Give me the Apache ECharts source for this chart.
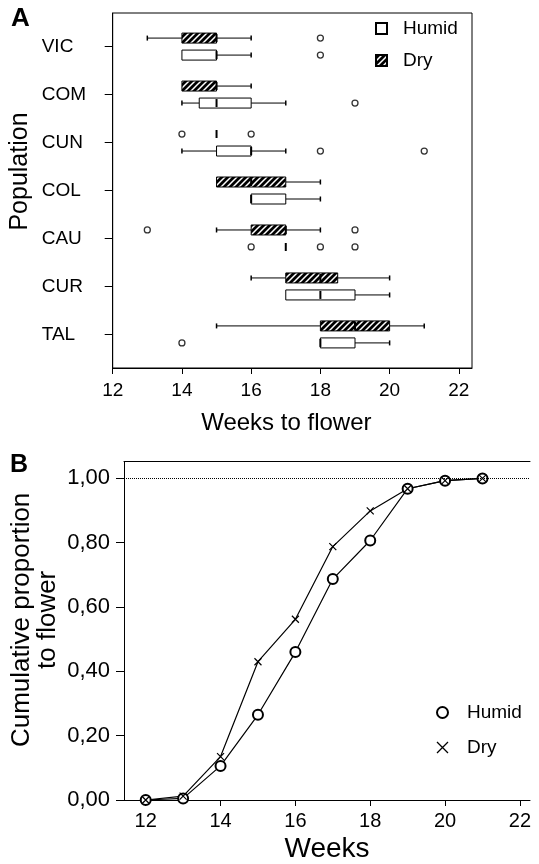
<!DOCTYPE html>
<html>
<head>
<meta charset="utf-8">
<script src="https://cdn.jsdelivr.net/npm/echarts@6/dist/echarts.min.js"></script>
<style>
html,body{margin:0;padding:0;background:#fff;}
#chart{width:539px;height:864px;}
</style>
</head>
<body>
<div id="chart"></div>
<script>
// ---------- DATA ----------
var categories = ['VIC', 'COM', 'CUN', 'COL', 'CAU', 'CUR', 'TAL'];
// [min, q1, median, q3, max] per population (weeks to flower)
var dryBoxes = [
  [13, 14, 15, 15, 16],
  [14, 14, 15, 15, 16],
  [15, 15, 15, 15, 15],
  [15, 15, 16, 17, 18],
  [15, 16, 17, 17, 18],
  [16, 17, 18, 18.5, 20],
  [15, 18, 19, 20, 21]
];
var humidBoxes = [
  [14, 14, 15, 15, 16],
  [14, 14.5, 15, 16, 17],
  [14, 15, 16, 16, 17],
  [16, 16, 16, 17, 18],
  [17, 17, 17, 17, 17],
  [17, 17, 18, 19, 20],
  [18, 18, 18, 19, 20]
];
// outliers: [weeks, population index (1-based)]
var dryOutliers = [[18, 1], [14, 3], [16, 3], [13, 5], [19, 5]];
var humidOutliers = [[18, 1], [19, 2], [18, 3], [21, 3], [16, 5], [18, 5], [19, 5], [14, 7]];
var xTicksA = [12, 14, 16, 18, 20, 22];

var weeks = [12, 13, 14, 15, 16, 17, 18, 19, 20, 21];
var humidCum = [0.0, 0.005, 0.106, 0.265, 0.46, 0.687, 0.807, 0.968, 0.993, 1.0];
var dryCum = [0.0, 0.012, 0.135, 0.43, 0.562, 0.788, 0.899, 0.968, 0.993, 1.0];
var xTicksB = [12, 14, 16, 18, 20, 22];
var yTicksB = [0, 0.2, 0.4, 0.6, 0.8, 1.0];

// ---------- STYLE HELPERS ----------
var FONT = '"Liberation Sans", Arial, sans-serif';
function hatch() {
  var c = document.createElement('canvas');
  c.width = 6; c.height = 6;
  var g = c.getContext('2d');
  g.fillStyle = '#000'; g.fillRect(0, 0, 6, 6);
  g.strokeStyle = '#fff'; g.lineWidth = 1.5;
  g.beginPath();
  g.moveTo(0, 6); g.lineTo(6, 0);
  g.moveTo(-3, 3); g.lineTo(3, -3);
  g.moveTo(3, 9); g.lineTo(9, 3);
  g.stroke();
  return {image: c, repeat: 'repeat'};
}
var hatchFill = hatch();
var OFF = 8.5, BOXH = 10, CAP = 5;

function boxSeries(name, boxes, dir, fill) {
  return {
    type: 'custom', name: name, xAxisIndex: 0, yAxisIndex: 0,
    itemStyle: {color: fill, borderColor: '#000', borderWidth: 1},
    encode: {x: [1, 2, 3, 4, 5], y: 0},
    data: boxes.map(function (b, i) { return [i + 1].concat(b); }),
    renderItem: function (params, api) {
      var cat = api.value(0);
      var p = [1, 2, 3, 4, 5].map(function (k) { return api.coord([api.value(k), cat]); });
      var y = p[0][1] + dir * OFF;
      var ls = {stroke: '#000', lineWidth: 1};
      var ch = [];
      if (p[0][0] < p[1][0]) {
        ch.push({type: 'line', shape: {x1: p[0][0], y1: y, x2: p[1][0], y2: y}, style: ls});
        ch.push({type: 'line', shape: {x1: p[0][0], y1: y - CAP / 2, x2: p[0][0], y2: y + CAP / 2}, style: {stroke: '#000', lineWidth: 1.5}});
      }
      if (p[4][0] > p[3][0]) {
        ch.push({type: 'line', shape: {x1: p[3][0], y1: y, x2: p[4][0], y2: y}, style: ls});
        ch.push({type: 'line', shape: {x1: p[4][0], y1: y - CAP / 2, x2: p[4][0], y2: y + CAP / 2}, style: {stroke: '#000', lineWidth: 1.5}});
      }
      if (p[3][0] > p[1][0]) {
        ch.push({type: 'rect', shape: {x: p[1][0], y: y - BOXH / 2, width: p[3][0] - p[1][0], height: BOXH},
          style: {fill: fill, stroke: '#000', lineWidth: 1}});
      }
      ch.push({type: 'line', shape: {x1: p[2][0], y1: y - BOXH / 2 + 1, x2: p[2][0], y2: y + BOXH / 2 - 1},
        style: {stroke: '#000', lineWidth: 2}});
      return {type: 'group', children: ch};
    }
  };
}
function outlierSeries(name, pts, dir) {
  return {
    type: 'scatter', name: name, xAxisIndex: 0, yAxisIndex: 0,
    data: pts, symbol: 'circle', symbolSize: 6, symbolOffset: [0, dir * OFF],
    itemStyle: {color: '#fff', borderColor: '#000', borderWidth: 1.3}
  };
}
var xPath = 'path://M0,0L10,10M10,0L0,10';
var commaFmt = function (v) { return v.toFixed(2).replace('.', ','); };

var chart = echarts.init(document.getElementById('chart'), null, {renderer: 'canvas'});
var option = {
  animation: false,
  backgroundColor: '#fff',
  textStyle: {fontFamily: FONT, color: '#000'},
  graphic: [
    {type: 'text', left: 11, top: 6, style: {text: 'A', font: 'bold 26px ' + FONT, fill: '#000'}},
    {type: 'text', left: 10, top: 453, style: {text: 'B', font: 'bold 25px ' + FONT, fill: '#000'}}
  ],
  grid: [
    {left: 112.7, right: 67, top: 13, bottom: 496, show: true, borderColor: '#000', borderWidth: 1,
      containLabel: false, outerBoundsMode: 'none'},
    {left: 124, right: 9, top: 461.7, bottom: 64, containLabel: false, outerBoundsMode: 'none'}
  ],
  legend: [
    {
      orient: 'vertical', left: 375, top: 19, padding: 0, itemWidth: 11, itemHeight: 11, itemGap: 13,
      selectedMode: false,
      textStyle: {fontSize: 19, color: '#000', fontFamily: FONT, padding: [0, 0, 0, 11]},
      data: [{name: 'Humid', icon: 'rect'}, {name: 'Dry', icon: 'rect'}]
    },
    {
      orient: 'vertical', left: 436, top: 703, padding: 0, itemWidth: 11, itemHeight: 11, itemGap: 16,
      selectedMode: false,
      textStyle: {fontSize: 19, color: '#000', fontFamily: FONT, padding: [0, 0, 0, 14]},
      data: [
        {name: 'Humid (B)', icon: 'emptyCircle', itemStyle: {color: '#000', borderColor: '#000', borderWidth: 1.1}},
        {name: 'Dry (B)', icon: xPath, itemStyle: {color: '#000', borderColor: '#000', borderWidth: 1.3}}
      ],
      formatter: function (n) { return n.replace(' (B)', ''); }
    }
  ],
  xAxis: [
    {
      type: 'value', gridIndex: 0, min: 12, max: 22.38,
      axisLine: {lineStyle: {color: '#000', width: 1}},
      axisTick: {show: true, length: 6, customValues: xTicksA, lineStyle: {color: '#000'}},
      axisLabel: {customValues: xTicksA, fontSize: 19, color: '#000', margin: 13, fontFamily: FONT},
      splitLine: {show: false},
      name: 'Weeks to flower', nameLocation: 'middle', nameGap: 43,
      nameTextStyle: {fontSize: 24, color: '#000', fontFamily: FONT, padding: [0, 12, 0, 0]}
    },
    {
      type: 'value', gridIndex: 1, min: 11.42, max: 22.27,
      axisLine: {lineStyle: {color: '#000', width: 1}},
      axisTick: {show: true, length: 6, customValues: xTicksB, lineStyle: {color: '#000'}},
      axisLabel: {customValues: xTicksB, fontSize: 20, color: '#000', margin: 11, fontFamily: FONT},
      splitLine: {show: false},
      name: 'Weeks', nameLocation: 'middle', nameGap: 35,
      nameTextStyle: {fontSize: 28, color: '#000', fontFamily: FONT}
    },
    {
      type: 'value', gridIndex: 1, min: 11.42, max: 22.27, position: 'top',
      axisLine: {show: true, lineStyle: {color: '#000', width: 1}},
      axisTick: {show: false}, axisLabel: {show: false}, splitLine: {show: false}
    }
  ],
  yAxis: [
    {
      type: 'value', gridIndex: 0, inverse: true, min: 0.3, max: 7.7,
      axisLine: {lineStyle: {color: '#000', width: 1}},
      axisTick: {show: true, length: 8, customValues: [1, 2, 3, 4, 5, 6, 7], lineStyle: {color: '#000'}},
      axisLabel: {
        customValues: [1, 2, 3, 4, 5, 6, 7], align: 'left', margin: 71, fontSize: 19, color: '#000', fontFamily: FONT,
        formatter: function (v) { return categories[Math.round(v) - 1]; }
      },
      splitLine: {show: false},
      name: 'Population', nameLocation: 'middle', nameRotate: 90, nameGap: 80, nameMoveOverlap: false,
      nameTextStyle: {fontSize: 25, color: '#000', fontFamily: FONT, padding: [0, 0, 0, 38]}
    },
    {
      type: 'value', gridIndex: 1, min: 0, max: 1.052,
      axisLine: {lineStyle: {color: '#000', width: 1}},
      axisTick: {show: true, length: 8, customValues: yTicksB, lineStyle: {color: '#000'}},
      axisLabel: {customValues: yTicksB, fontSize: 22, color: '#000', margin: 14, fontFamily: FONT, formatter: commaFmt},
      splitLine: {show: false},
      name: 'Cumulative proportion\nto flower', nameLocation: 'middle', nameRotate: 90, nameGap: 63, nameMoveOverlap: false,
      nameTextStyle: {fontSize: 26, lineHeight: 26, color: '#000', fontFamily: FONT, align: 'center', padding: [0, 0, 0, 22]}
    }
  ],
  series: [
    boxSeries('Dry', dryBoxes, -1, hatchFill),
    boxSeries('Humid', humidBoxes, 1, '#fff'),
    outlierSeries('Dry outliers', dryOutliers, -1),
    outlierSeries('Humid outliers', humidOutliers, 1),
    {
      type: 'line', name: 'Humid (B)', xAxisIndex: 1, yAxisIndex: 1,
      data: weeks.map(function (w, i) { return [w, humidCum[i]]; }),
      symbol: 'emptyCircle', symbolSize: 10,
      lineStyle: {color: '#000', width: 1.2},
      itemStyle: {color: '#000', borderColor: '#000', borderWidth: 1.1},
      markLine: {
        silent: true, symbol: ['none', 'none'], label: {show: false},
        lineStyle: {type: 'dotted', color: '#000', width: 1},
        data: [{yAxis: 1}]
      }
    },
    {
      type: 'line', name: 'Dry (B)', xAxisIndex: 1, yAxisIndex: 1,
      data: weeks.map(function (w, i) { return [w, dryCum[i]]; }),
      symbol: xPath, symbolSize: 7,
      lineStyle: {color: '#000', width: 1.2},
      itemStyle: {color: '#000', borderColor: '#000', borderWidth: 1.2}
    }
  ]
};
chart.setOption(option);
</script>
</body>
</html>
